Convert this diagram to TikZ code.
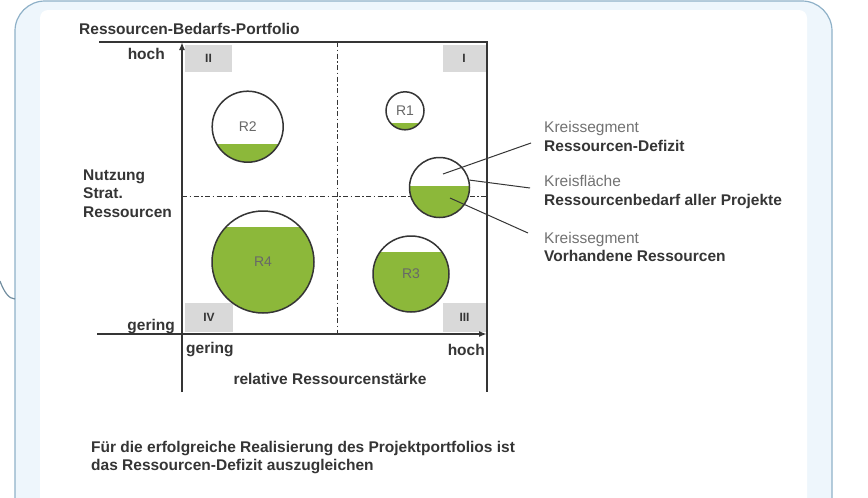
\documentclass[tikz,border=0pt]{standalone}
\usepackage{fontspec}
\setmainfont{Liberation Sans}
\usetikzlibrary{arrows.meta}
\definecolor{framefill}{HTML}{EEF6FC}
\definecolor{framedraw}{HTML}{8FB1C8}
\definecolor{resgreen}{HTML}{8CB83A}
\definecolor{txt}{HTML}{353535}
\definecolor{quad}{HTML}{D9D9D9}

\begin{document}
\begin{tikzpicture}[x=1pt, y=-1pt,
    lab/.style={text=txt, inner sep=0pt, font=\fontsize{15.5}{18.5}\selectfont\bfseries},
    res/.style={circle, draw=txt, fill=white, line width=1.5pt, inner sep=0pt, minimum size=#1, text=txt!75, font=\fontsize{14}{14}\selectfont},
    lvl/.style={path picture={\fill[resgreen] (path picture bounding box.south west) rectangle ([yshift=#1]path picture bounding box.east);}},
    quadbox/.style={fill=quad, inner sep=0pt, minimum height=27pt, text=txt, font=\fontsize{12}{12}\selectfont\bfseries},
    axis/.style={txt, line width=1.6pt},
    ddot/.style={txt, line width=1pt, dash pattern=on 5pt off 2.5pt on 1.5pt off 2.5pt},
    leader/.style={txt, line width=1pt}]
    \useasboundingbox (0,0) rectangle (868,498);

    \draw [framedraw, fill=framefill, line width=1.2pt, rounded corners=30pt] (15,530) -- (15,1) -- (832,1) -- (832,530);
    \fill [white, rounded corners=8pt] (40,540) -- (40,10) -- (807,10) -- (807,540);
    \draw [framedraw!80!black, line width=1.2pt] (0,281) .. controls (4,292) and (9,299) .. (15,299);

    \node [lab, anchor=west] (title) at (79,29) {Ressourcen-Bedarfs-Portfolio};

    \coordinate (tl) at (99,42);
    \coordinate (tr) at (487,42);
    \coordinate (br) at (487,392);
    \coordinate (yb) at (182,392);
    \coordinate (yt) at (182,42);
    \coordinate (xl) at (97,334);
    \coordinate (xr) at (487,334);
    \coordinate (vt) at (337,42);
    \coordinate (vb) at (337,334);
    \coordinate (hl) at (182,196);
    \coordinate (hr) at (487,196);

    \draw [ddot] (vt) -- (vb);
    \draw [ddot] (hl) -- (hr);

    \node [quadbox, minimum width=47pt] (q2) at (208.5,58) {II};
    \node [quadbox, minimum width=43pt] (q1) at (464,58) {I};
    \node [quadbox, minimum width=48pt, minimum height=29pt] (q4) at (209,317.5) {IV};
    \node [quadbox, minimum width=43pt, minimum height=29pt] (q3) at (464.5,317.5) {III};

    \draw [axis] (tl) -- (tr) -- (br);
    \draw [axis, -{Latex[length=8pt,width=6pt]}] (yb) -- (yt);
    \draw [axis, -{Latex[length=8pt,width=6pt]}] (xl) -- (xr);

    \node [res=71pt, lvl=-17.6pt] (r2) at (247.7,126.7) {R2};
    \node [res=38pt, lvl=-12.5pt] (r1) at (405,110.8) {R1};
    \node [res=60pt, lvl=1.5pt] (leg) at (439.5,187.5) {};
    \node [res=102pt, lvl=35.3pt] (r4) at (263,262) {R4};
    \node [res=76pt, lvl=22.3pt] (r3) at (411,274) {R3};

    \node [lab, anchor=east] (yhoch) at (165,54) {hoch};
    \node [lab, anchor=east] (ygering) at (175,327) {gering};
    \node [lab, anchor=west] (xgering) at (186,350) {gering};
    \node [lab, anchor=east] (xhoch) at (485,350) {hoch};
    \node [lab] (xlabel) at (330,379) {relative Ressourcenstärke};
    \node [lab, anchor=west, align=left] (ylabel) at (83,193.5) {Nutzung\\Strat.\\Ressourcen};

    \node [lab, anchor=west, align=left] (ldef) at (544,136.5) {{\mdseries\color{txt!70}Kreissegment}\\Ressourcen-Defizit};
    \node [lab, anchor=west, align=left] (lfl) at (544,192) {{\mdseries\color{txt!70}Kreisfläche}\\Ressourcenbedarf aller Projekte};
    \node [lab, anchor=west, align=left] (lvor) at (544,247) {{\mdseries\color{txt!70}Kreissegment}\\Vorhandene Ressourcen};

    \coordinate (pdef) at (443,174);
    \coordinate (edef) at (531,143);
    \coordinate (efl) at (530,188);
    \coordinate (pvor) at (450,198);
    \coordinate (evor) at (528,233);
    \draw [leader] (pdef) -- (edef);
    \draw [leader] (leg.14) -- (efl);
    \draw [leader] (pvor) -- (evor);

    \node [lab, anchor=west, align=left] (fazit) at (91,457.5) {Für die erfolgreiche Realisierung des Projektportfolios ist\\das Ressourcen-Defizit auszugleichen};
\end{tikzpicture}
\end{document}
